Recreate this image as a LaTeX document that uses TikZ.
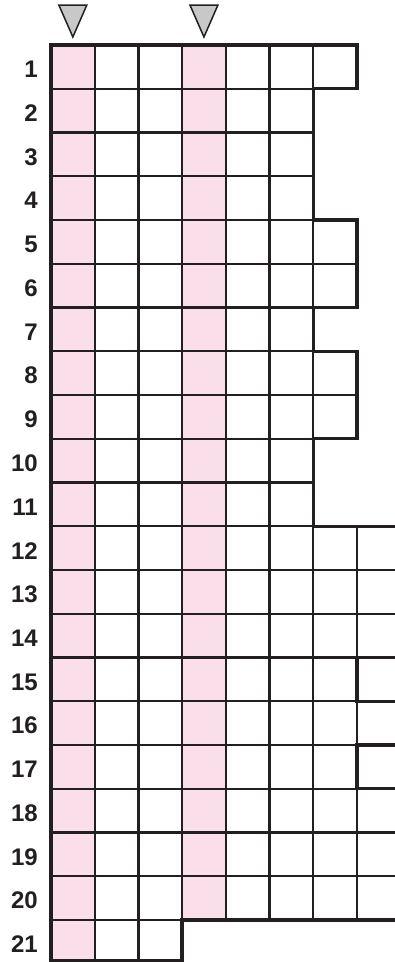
\documentclass[tikz,border=0pt]{standalone}
\usepackage{fontspec}
\setmainfont{Liberation Sans}
\definecolor{gridink}{RGB}{35,31,32}
\definecolor{rowpink}{RGB}{250,222,233}
\definecolor{markgray}{RGB}{200,200,200}

\tikzset{
  cellbox/.style={draw=gridink, line width=2.2pt},
  outline/.style={draw=gridink, line width=3.4pt, line join=miter},
  rownum/.style={anchor=east, inner sep=0pt, text=gridink,
                 font=\fontsize{24}{24}\selectfont\bfseries},
  dropmark/.style={draw=gridink, line width=1.5pt, fill=markgray,
                   line join=miter},
}

\begin{document}
\begin{tikzpicture}[x=43.7pt, y=-43.75pt]
  % frame of the page: grid corner sits 51 in and 45 down
  \useasboundingbox (-51pt,45pt) rectangle ++(394pt,-962pt);
  \def\bot{20.93}

  % the two pink columns under the markers
  \fill[rowpink] (0,0) rectangle (1,\bot);
  \fill[rowpink] (3,0) rectangle (4,20);

  % rows: number / cells in that row
  \foreach \r/\n in {1/7,2/6,3/6,4/6,5/7,6/7,7/6,8/7,9/7,10/6,11/6,
                     12/8,13/8,14/8,15/7,16/8,17/7,18/8,19/8,20/8,21/3}{
    \pgfmathsetmacro{\yb}{min(\r,\bot)}
    \foreach \c in {1,...,\n}
      \draw[cellbox] (\c-1,\r-1) rectangle (\c,\yb);
    \node[rownum, xshift=-13pt, yshift=-2.5pt] (row\r) at (0,\r-0.5) {\r};
  }

  % heavy outline round the whole block
  \draw[outline] (0,0) -- (7,0) -- (7,1) -- (6,1) -- (6,4) -- (7,4)
    -- (7,6) -- (6,6) -- (6,7) -- (7,7) -- (7,9) -- (6,9) -- (6,11)
    -- (8,11) -- (8,14) -- (7,14) -- (7,15) -- (8,15) -- (8,16)
    -- (7,16) -- (7,17) -- (8,17) -- (8,20) -- (3,20) -- (3,\bot)
    -- (0,\bot) -- cycle;

  % grey markers over columns 1 and 4
  \foreach \c in {1,4}
    \draw[dropmark] (\c-0.5,0) ++(-14pt,40pt) -- ++(28pt,0pt)
      -- ++(-14pt,-32pt) -- cycle;
\end{tikzpicture}
\end{document}
